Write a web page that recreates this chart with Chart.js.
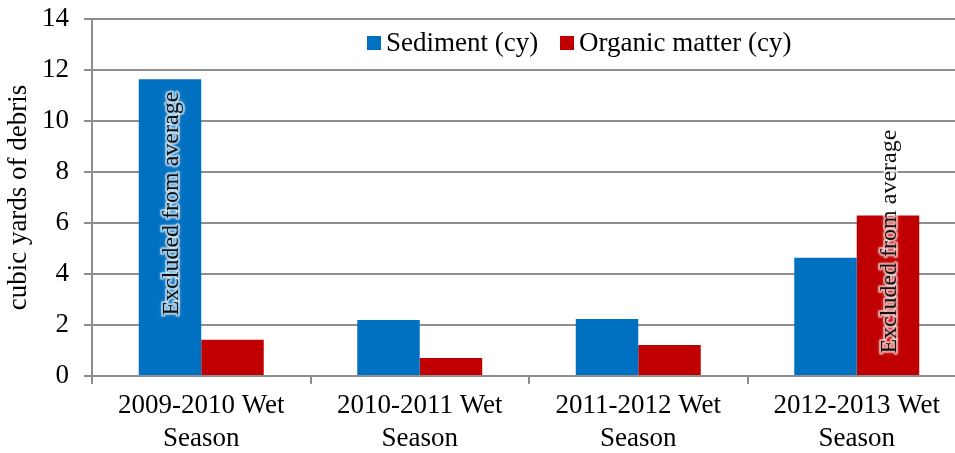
<!DOCTYPE html>
<html>
<head>
<meta charset="utf-8">
<script src="https://cdn.jsdelivr.net/npm/chart.js@4.4.1/dist/chart.umd.min.js"></script>
<style>
  html, body { margin: 0; padding: 0; background: #ffffff; overflow: hidden; width: 955px; height: 453px; }
  #wrap { position: absolute; left: 0; top: 0; width: 966px; height: 453px; }
</style>
</head>
<body>
<div id="wrap"><canvas id="c" width="966" height="453"></canvas></div>
<script>
// ---- data ----
const categories = [
  ['2009-2010 Wet', 'Season'],
  ['2010-2011 Wet', 'Season'],
  ['2011-2012 Wet', 'Season'],
  ['2012-2013 Wet', 'Season']
];
const seriesNames = ['Sediment (cy)', 'Organic matter (cy)'];
const sediment = [11.64, 2.2, 2.24, 4.64];
const organic = [1.42, 0.71, 1.22, 6.29];
const yMin = 0;
const yMax = 14;
const yStep = 2;
const yTitle = 'cubic yards of debris';
const noteText = 'Excluded from average';
const noteSeries = [0, 1];     // which dataset each note sits on
const noteCategory = [0, 3];   // which category each note sits on
const noteCenter = [6.76, 5.27]; // value at the vertical centre of each note

// ---- styles ----
const FONT = "'Liberation Serif', 'Times New Roman', serif";
const BLUE = '#0070C0';
const RED = '#C00000';
const GRID = '#8e8e8e';

const legendPlugin = {
  id: 'customLegend',
  afterDraw(chart) {
    const ctx = chart.ctx;
    const items = [
      { x: 367, ds: chart.data.datasets[0] },
      { x: 560, ds: chart.data.datasets[1] }
    ];
    ctx.save();
    ctx.font = '27px ' + FONT;
    ctx.textBaseline = 'middle';
    ctx.textAlign = 'left';
    items.forEach(it => {
      ctx.fillStyle = it.ds.backgroundColor;
      ctx.fillRect(it.x, 36, 14, 14);
      ctx.fillStyle = '#000000';
      ctx.fillText(it.ds.label, it.x + 19, 44);
    });
    ctx.restore();
  }
};

const notePlugin = {
  id: 'notes',
  afterDatasetsDraw(chart) {
    const ctx = chart.ctx;
    const yScale = chart.scales.y;
    ctx.save();
    ctx.font = '24px ' + FONT;
    ctx.textAlign = 'center';
    ctx.textBaseline = 'middle';
    noteSeries.forEach((dsIndex, k) => {
      const bar = chart.getDatasetMeta(dsIndex).data[noteCategory[k]];
      const cx = bar.x + 2;
      const cy = yScale.getPixelForValue(noteCenter[k]);
      ctx.save();
      ctx.translate(cx, cy);
      ctx.rotate(-Math.PI / 2);
      ctx.lineJoin = 'round';
      ctx.shadowColor = 'rgba(255,255,255,0.8)';
      ctx.shadowBlur = 3;
      ctx.strokeStyle = 'rgba(255,255,255,0.45)';
      ctx.lineWidth = 4;
      ctx.strokeText(noteText, 0, 0);
      ctx.shadowBlur = 0;
      ctx.fillStyle = '#111111';
      ctx.fillText(noteText, 0, 0);
      ctx.restore();
    });
    ctx.restore();
  }
};

new Chart(document.getElementById('c'), {
  type: 'bar',
  data: {
    labels: categories,
    datasets: [
      { label: seriesNames[0], data: sediment, backgroundColor: BLUE, borderWidth: 0,
        barPercentage: 1.0, categoryPercentage: 0.572 },
      { label: seriesNames[1], data: organic, backgroundColor: RED, borderWidth: 0,
        barPercentage: 1.0, categoryPercentage: 0.572 }
    ]
  },
  options: {
    responsive: false,
    devicePixelRatio: 1,
    animation: false,
    layout: { padding: { top: 19, right: 0, bottom: 0, left: 0 } },
    plugins: {
      legend: { display: false },
      tooltip: { enabled: false },
      title: { display: false }
    },
    scales: {
      x: {
        offset: true,
        grid: { display: true, offset: true, drawOnChartArea: false, drawTicks: true,
                tickLength: 8, color: GRID, lineWidth: 2 },
        border: { display: true, color: GRID, width: 2 },
        ticks: { color: '#000000', font: { family: FONT, size: 27 }, padding: 6,
                 maxRotation: 0, autoSkip: false },
        afterFit(scale) { scale.height = 77; scale.paddingLeft = 0; scale.paddingRight = 0; }
      },
      y: {
        min: yMin,
        max: yMax,
        ticks: { stepSize: yStep, color: '#000000', font: { family: FONT, size: 27 }, padding: 15 },
        grid: { color: GRID, lineWidth: 2, drawTicks: true, tickLength: 8 },
        border: { display: true, color: GRID, width: 2 },
        title: { display: true, text: yTitle, color: '#000000',
                 font: { family: FONT, size: 27 }, padding: { top: 3, bottom: 0 } },
        afterFit(scale) { scale.width = 92; scale.paddingTop = 0; scale.paddingBottom = 0; }
      }
    }
  },
  plugins: [legendPlugin, notePlugin]
});
</script>
</body>
</html>
